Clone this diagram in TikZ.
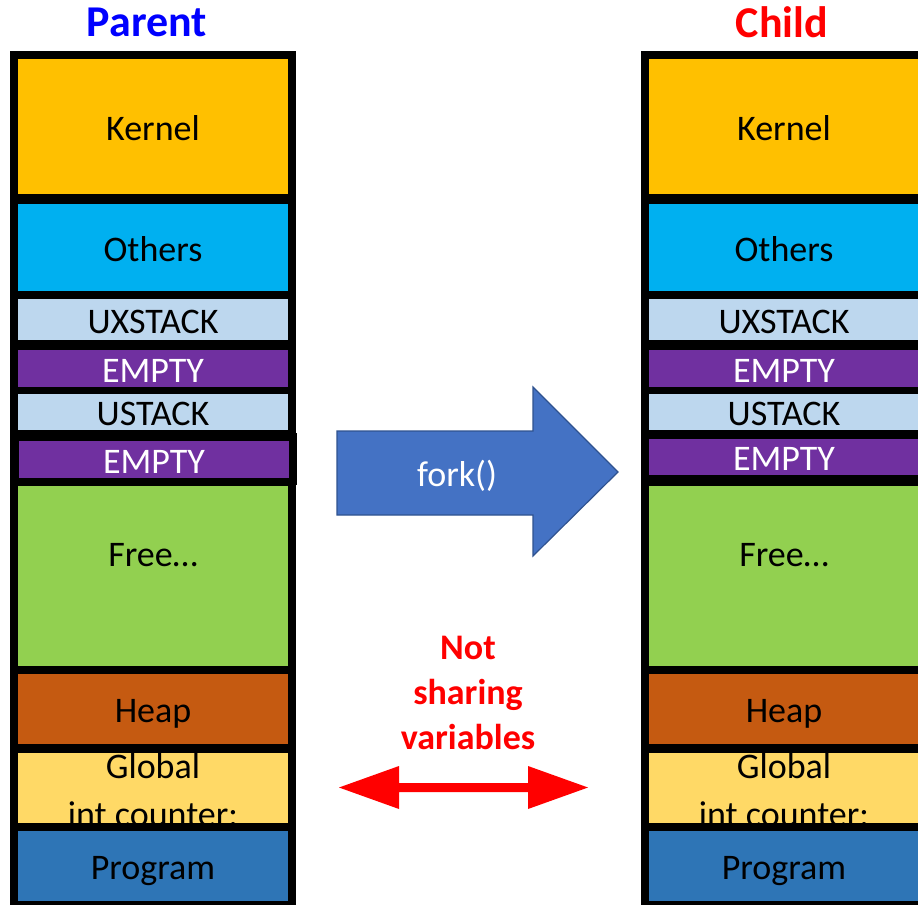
\documentclass[tikz,border=0pt]{standalone}
\usepackage{fontspec}
\setmainfont{Carlito}
\definecolor{kernelc}{HTML}{FFC000}
\definecolor{othersc}{HTML}{00B0F0}
\definecolor{stackc}{HTML}{BDD7EE}
\definecolor{emptyc}{HTML}{7030A0}
\definecolor{freec}{HTML}{92D050}
\definecolor{heapc}{HTML}{C55A11}
\definecolor{globalc}{HTML}{FFD966}
\definecolor{progc}{HTML}{2E75B6}
\definecolor{forkfill}{HTML}{4472C4}
\definecolor{forkdraw}{HTML}{2F528F}
\definecolor{parentc}{HTML}{0000FF}
\definecolor{redc}{HTML}{FF0000}
\newcommand\segfont{\fontsize{36}{43}\selectfont}
\begin{document}
\begin{tikzpicture}[x=1pt,y=-1pt,
  seg/.style={inner sep=0pt, minimum width=270pt, font=\segfont,
    text height=27pt, text depth=0pt, anchor=center},
  plaintxt/.style={inner sep=0pt, font=\segfont, anchor=base},
  title/.style={inner sep=0pt, font=\fontsize{44}{50}\selectfont\bfseries, anchor=base}]
\clip (0,0) rectangle (918,905);
\fill[white] (0,0) rectangle (918,905);

% titles
\node[title, text=parentc] (ptitle) at (147,36) {Parent};
\node[title, text=redc] (ctitle) at (782,37) {Child};

% black frames
\fill[black] (10,51) rectangle (296,905);
\fill[black] (641,51) rectangle (927,905);
\fill[black] (10,433) rectangle (297,485);

\foreach \c/\xl/\ea/\eb in {p/18/441/478, c/649/439/475} {
  \node[seg, fill=kernelc, minimum height=135pt] (\c-kernel) at ({\xl+135},126.5) {Kernel};
  \node[seg, fill=othersc, minimum height=87pt] (\c-others) at ({\xl+135},247.5) {Others};
  \node[seg, fill=stackc, minimum height=41pt] (\c-uxstack) at ({\xl+135},319.5) {UXSTACK};
  \node[seg, fill=emptyc, text=white, minimum height=37pt] (\c-empty1) at ({\xl+135},368.5) {EMPTY};
  \node[seg, fill=stackc, minimum height=36pt] (\c-ustack) at ({\xl+135},412) {USTACK};
  \node[seg, fill=emptyc, text=white, minimum height={(\eb-\ea)*1pt}] (\c-empty2) at ({\xl+135+(\xl==18 ? 1 : 0)},{(\ea+\eb)/2}) {EMPTY};
  \node[seg, fill=freec, minimum height=180pt] (\c-free) at ({\xl+135},576) {};
  \node[plaintxt] (\c-freetxt) at ({\xl+135},566) {Free…};
  \node[seg, fill=heapc, minimum height=70pt] (\c-heap) at ({\xl+135},709) {Heap};
  \node[seg, fill=globalc, minimum height=70pt] (\c-global) at ({\xl+135},788) {};
  \begin{scope}
    \clip ({\xl},753) rectangle ({\xl+270},823);
    \node[plaintxt] (\c-globaltxt) at ({\xl+135},778) {Global};
    \node[plaintxt] (\c-countertxt) at ({\xl+135},826) {int counter:};
  \end{scope}
  \node[seg, fill=progc, minimum height=70pt] (\c-program) at ({\xl+135},866) {Program};
}

% fork arrow
\coordinate (forkA) at (337,431);
\coordinate (forkB) at (533,431);
\coordinate (forkC) at (533,387);
\coordinate (forkTip) at (618,472);
\coordinate (forkD) at (533,556);
\coordinate (forkE) at (533,515);
\coordinate (forkF) at (337,515);
\draw[fill=forkfill, draw=forkdraw, line width=1.2pt, line join=miter]
  (forkA) -- (forkB) -- (forkC) -- (forkTip) -- (forkD) -- (forkE) -- (forkF) -- cycle;
\node[plaintxt, text=white] (forktxt) at (457,486) {fork()};

% not sharing
\node[inner sep=0pt, align=center, text=redc,
  font=\fontsize{36}{45}\selectfont\bfseries] (notshare) at (468,693) {Not\\sharing\\variables};

\coordinate (dl) at (339,787.5);
\coordinate (dr) at (588,787.5);
\fill[redc] (dl) -- (399,766) -- (399,783) -- (528,783) -- (528,766) -- (dr)
  -- (528,809) -- (528,792) -- (399,792) -- (399,809) -- cycle;
\end{tikzpicture}
\end{document}
